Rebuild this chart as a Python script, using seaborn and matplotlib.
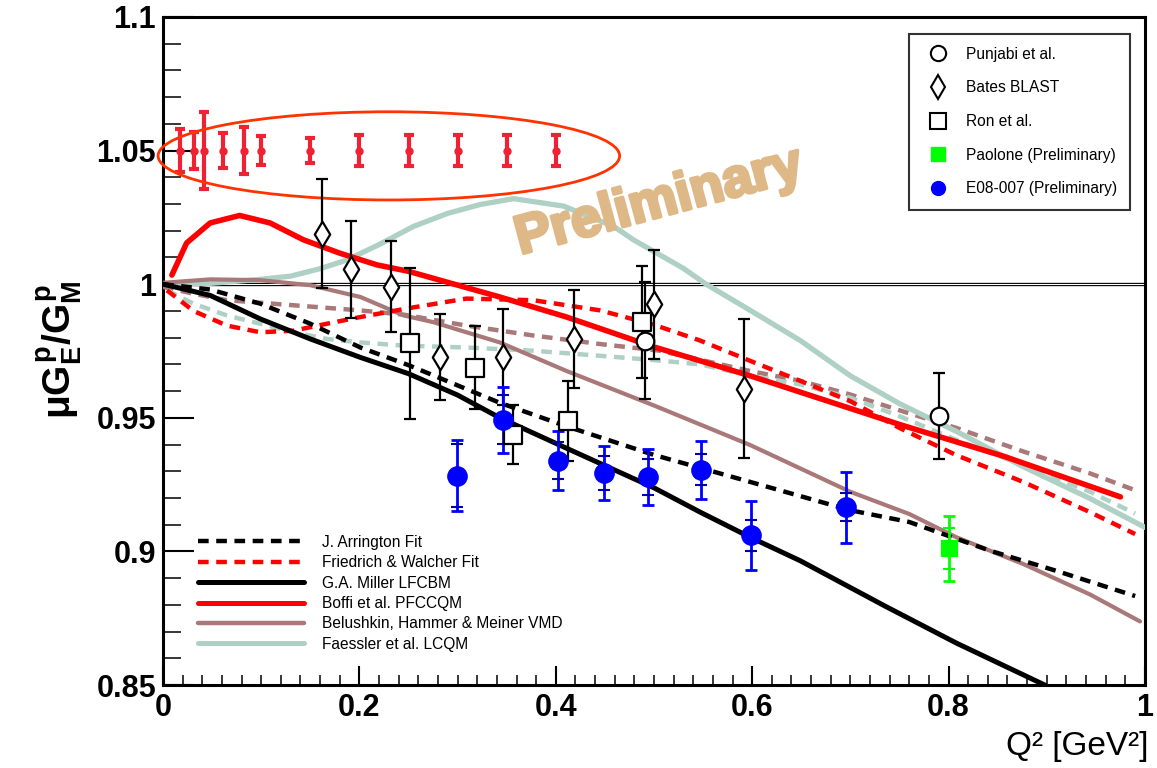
import numpy as np
import pandas as pd
import matplotlib
matplotlib.use("Agg")
import matplotlib.pyplot as plt
import matplotlib.patheffects as pe
import seaborn as sns
from matplotlib.lines import Line2D
from matplotlib.patches import Ellipse
from matplotlib.ticker import MultipleLocator, FixedLocator, FixedFormatter

# ---------------- data ----------------
xticks = [0, 0.2, 0.4, 0.6, 0.8, 1.0]
xtick_labels = ["0", "0.2", "0.4", "0.6", "0.8", "1"]
yticks = [0.85, 0.9, 0.95, 1.0, 1.05, 1.1]
ytick_labels = ["0.85", "0.9", "0.95", "1", "1.05", "1.1"]

# theory curves
arrington_x = [0, 0.048, 0.099, 0.150, 0.201, 0.250, 0.343, 0.411, 0.500, 0.598, 0.700, 0.760, 0.842, 0.910, 0.99]
arrington_y = [1.0, 0.998, 0.9927, 0.9852, 0.9763, 0.9697, 0.9556, 0.9468, 0.9361, 0.926, 0.9154, 0.9110, 0.9003, 0.8927, 0.8833]

friedrich_x = [0.004, 0.031, 0.065, 0.099, 0.133, 0.167, 0.201, 0.250, 0.309, 0.377, 0.445, 0.500, 0.547, 0.598, 0.649, 0.700, 0.750, 0.808, 0.876, 0.944, 0.99]
friedrich_y = [0.9977, 0.990, 0.9845, 0.982, 0.9826, 0.9852, 0.9877, 0.991, 0.9946, 0.994, 0.9902, 0.9848, 0.9789, 0.9713, 0.9638, 0.9562, 0.9462, 0.936, 0.926, 0.9147, 0.9065]

miller_x = [0, 0.048, 0.099, 0.150, 0.201, 0.250, 0.300, 0.343, 0.411, 0.500, 0.547, 0.598, 0.649, 0.735, 0.808, 0.898]
miller_y = [1.0, 0.9958, 0.987, 0.9795, 0.9726, 0.9665, 0.9585, 0.950, 0.9386, 0.9238, 0.9147, 0.9053, 0.8965, 0.8796, 0.8657, 0.850]

boffi_x = [0.009, 0.024, 0.048, 0.078, 0.109, 0.143, 0.180, 0.218, 0.250, 0.343, 0.411, 0.500, 0.598, 0.750, 0.857, 0.975]
boffi_y = [1.0034, 1.0154, 1.0229, 1.0257, 1.0229, 1.0166, 1.0116, 1.0072, 1.0048, 0.9952, 0.9877, 0.9765, 0.9657, 0.9475, 0.9355, 0.9204]

belushkin_x = [0, 0.048, 0.099, 0.150, 0.201, 0.245, 0.275, 0.343, 0.411, 0.500, 0.598, 0.700, 0.760, 0.808, 0.876, 0.944, 0.995]
belushkin_y = [1.0005, 1.0018, 1.0015, 0.9996, 0.9952, 0.9883, 0.9858, 0.9782, 0.9675, 0.9546, 0.9398, 0.9223, 0.9140, 0.9053, 0.8953, 0.8839, 0.8738]

faessler_x = [0, 0.048, 0.099, 0.130, 0.160, 0.187, 0.220, 0.255, 0.290, 0.323, 0.357, 0.408, 0.459, 0.479, 0.530, 0.553, 0.598, 0.649, 0.700, 0.750, 0.808, 0.876, 0.944, 1.0]
faessler_y = [1.0, 1.0003, 1.0018, 1.003, 1.0058, 1.009, 1.0148, 1.0216, 1.0265, 1.0298, 1.032, 1.0292, 1.0216, 1.0166, 1.0059, 1.0, 0.9902, 0.9789, 0.9657, 0.9553, 0.9449, 0.9317, 0.9198, 0.909]

belushkin_dash_x = [0, 0.03, 0.065, 0.133, 0.2, 0.245, 0.309, 0.377, 0.445, 0.506, 0.598, 0.649, 0.700, 0.750, 0.808, 0.876, 0.944, 0.99]
belushkin_dash_y = [0.999, 0.9965, 0.994, 0.9921, 0.9902, 0.9886, 0.9845, 0.9808, 0.9776, 0.9751, 0.9675, 0.9638, 0.9587, 0.9528, 0.9462, 0.9374, 0.9292, 0.9229]

faessler_dash_x = [0.004, 0.031, 0.065, 0.099, 0.133, 0.167, 0.201, 0.245, 0.309, 0.377, 0.445, 0.500, 0.547, 0.598, 0.649, 0.700, 0.750, 0.808, 0.876, 0.944, 0.99]
faessler_dash_y = [0.9977, 0.9927, 0.9883, 0.9852, 0.982, 0.9795, 0.9782, 0.977, 0.9763, 0.9751, 0.9732, 0.9716, 0.970, 0.9657, 0.9625, 0.9575, 0.9506, 0.9417, 0.9323, 0.9223, 0.9142]

# data sets
punjabi_x = [0.491, 0.790]
punjabi_y = [0.9789, 0.9506]
punjabi_err = [0.022, 0.016]

bates_x = [0.162, 0.191, 0.232, 0.282, 0.346, 0.419, 0.500, 0.592]
bates_y = [1.0189, 1.0055, 0.999, 0.9728, 0.9728, 0.9795, 0.9925, 0.9608]
bates_err = [0.0205, 0.018, 0.017, 0.016, 0.018, 0.0185, 0.0204, 0.026]

ron_x = [0.2515, 0.3177, 0.3567, 0.4128, 0.4874]
ron_y = [0.9779, 0.9688, 0.9437, 0.9489, 0.9858]
ron_err = [0.0283, 0.0154, 0.011, 0.015, 0.021]

e08_x = [0.299, 0.346, 0.402, 0.449, 0.494, 0.5475, 0.599, 0.6955]
e08_y = [0.9283, 0.9493, 0.934, 0.9294, 0.9279, 0.9305, 0.906, 0.9166]
e08_tot = [0.0133, 0.0124, 0.0111, 0.0101, 0.0106, 0.011, 0.013, 0.0133]
e08_stat = [0.0118, 0.0092, 0.0068, 0.0064, 0.0068, 0.0058, 0.0058, 0.0053]

paolone_x = [0.800]
paolone_y = [0.9011]
paolone_tot = [0.0122]
paolone_stat = [0.0075]

proj_x = [0.017, 0.032, 0.042, 0.061, 0.082, 0.1, 0.15, 0.2, 0.25, 0.3, 0.35, 0.4]
proj_y = [1.05] * 12
proj_err = [0.0082, 0.0068, 0.0143, 0.0066, 0.0087, 0.0055, 0.0048, 0.0057, 0.0057, 0.0057, 0.0057, 0.0057]

# ---------------- styling ----------------
sns.set_theme(style="ticks")
plt.rcParams['font.family'] = ['Liberation Sans', 'DejaVu Sans']
plt.rcParams['text.color'] = 'black'
plt.rcParams['mathtext.fontset'] = 'custom'
plt.rcParams['mathtext.rm'] = 'Liberation Sans:bold'
plt.rcParams['mathtext.it'] = 'Liberation Sans:bold'
plt.rcParams['mathtext.bf'] = 'Liberation Sans:bold'

RED = "#ff0000"
BROWN = "#a97878"
TEAL = "#afd0c5"
DASH = (0, (2.4, 1.7))

fig = plt.figure(figsize=(11.57, 7.68), dpi=100)
ax = fig.add_axes([0.1409, 0.108, 0.8487, 0.870])
ax.set_facecolor("white")

# reference line at 1
ax.axhline(1.0, color="black", lw=2.4, zorder=2)
ax.axhline(1.0, color="white", lw=0.8, zorder=2)

curves = [
    (belushkin_dash_x, belushkin_dash_y, BROWN, DASH, 3.2),
    (faessler_dash_x, faessler_dash_y, TEAL, DASH, 3.2),
    (faessler_x, faessler_y, TEAL, "-", 3.8),
    (belushkin_x, belushkin_y, BROWN, "-", 3.0),
    (friedrich_x, friedrich_y, RED, DASH, 3.2),
    (arrington_x, arrington_y, "black", DASH, 3.2),
    (miller_x, miller_y, "black", "-", 3.6),
    (boffi_x, boffi_y, RED, "-", 4.0),
]
for cx, cy, col, ls, lw in curves:
    sns.lineplot(x=cx, y=cy, ax=ax, color=col, lw=lw, sort=False,
                 estimator=None, legend=False, zorder=3)
    ax.lines[-1].set_linestyle(ls)

# projected errors and ellipse
ax.errorbar(proj_x, proj_y, yerr=proj_err, fmt="o", color="#ee2233", ms=5,
            lw=3, capsize=3.5, capthick=3, zorder=5)
ax.add_patch(Ellipse((0.230, 1.048), 0.47, 0.033, fill=False,
                     edgecolor="#ff3300", lw=2, clip_on=False, zorder=5))

# data sets
ax.errorbar(bates_x, bates_y, yerr=bates_err, fmt="none", ecolor="black",
            lw=1.6, capsize=4, capthick=1.6, zorder=6)
sns.scatterplot(x=bates_x, y=bates_y, ax=ax, marker="d", s=170,
                facecolor="white", edgecolor="black", linewidth=1.6, zorder=7)
ax.errorbar(ron_x, ron_y, yerr=ron_err, fmt="none", ecolor="black",
            lw=1.6, capsize=4, capthick=1.6, zorder=6)
sns.scatterplot(x=ron_x, y=ron_y, ax=ax, marker="s", s=150,
                facecolor="white", edgecolor="black", linewidth=1.6, zorder=7)
ax.errorbar(punjabi_x, punjabi_y, yerr=punjabi_err, fmt="none", ecolor="black",
            lw=1.6, capsize=4, capthick=1.6, zorder=6)
sns.scatterplot(x=punjabi_x, y=punjabi_y, ax=ax, marker="o", s=160,
                facecolor="white", edgecolor="black", linewidth=1.6, zorder=7)

ax.errorbar(e08_x, e08_y, yerr=e08_tot, fmt="none", ecolor="#0000ff",
            lw=2, capsize=4, capthick=2, zorder=6)
ax.errorbar(e08_x, e08_y, yerr=e08_stat, fmt="none", ecolor="#0000aa",
            lw=0, capsize=4, capthick=1.5, zorder=6)
sns.scatterplot(x=e08_x, y=e08_y, ax=ax, marker="o", s=190,
                color="#0000ff", edgecolor="#0000ff", zorder=7)

ax.errorbar(paolone_x, paolone_y, yerr=paolone_tot, fmt="none", ecolor="#00ff00",
            lw=2, capsize=4, capthick=2, zorder=6)
ax.errorbar(paolone_x, paolone_y, yerr=paolone_stat, fmt="none", ecolor="#00ff00",
            lw=0, capsize=4, capthick=1.5, zorder=6)
sns.scatterplot(x=paolone_x, y=paolone_y, ax=ax, marker="s", s=120,
                color="#00ff00", edgecolor="#00ff00", zorder=7)

# Preliminary watermark
ax.text(0.505, 1.0305, "Preliminary", fontsize=39, fontweight="bold",
        color="#deb887", rotation=15, ha="center", va="center", zorder=4,
        path_effects=[pe.withStroke(linewidth=2.5, foreground="#deb887")])

# axes
ax.set_xlim(0, 1)
ax.set_ylim(0.85, 1.1)
ax.xaxis.set_major_locator(FixedLocator(xticks))
ax.xaxis.set_major_formatter(FixedFormatter(xtick_labels))
ax.yaxis.set_major_locator(FixedLocator(yticks))
ax.yaxis.set_major_formatter(FixedFormatter(ytick_labels))
ax.xaxis.set_minor_locator(MultipleLocator(0.02))
ax.yaxis.set_minor_locator(MultipleLocator(0.01))
ax.tick_params(axis="x", which="major", direction="in", length=14, width=1.5,
               labelsize=22, pad=6, colors="black")
ax.tick_params(axis="x", which="minor", direction="in", length=7, width=1.3)
ax.tick_params(axis="y", which="major", direction="in", length=22, width=1.5,
               labelsize=22, pad=5, colors="black")
ax.tick_params(axis="y", which="minor", direction="in", length=13, width=1.3)
for lab in ax.get_xticklabels() + ax.get_yticklabels():
    lab.set_fontweight("bold")
for sp in ax.spines.values():
    sp.set_linewidth(2.2)
    sp.set_color("black")
    sp.set_visible(True)

ax.set_xlabel("")
ax.set_ylabel("")
fig.text(0.052, 0.545, r"$\mu G_E^p/G_M^p$", rotation=90, fontsize=28,
         ha="center", va="center", color="black")
fig.text(0.993, 0.008, "Q² [GeV²]", fontsize=24, ha="right", va="bottom",
         color="black")

# legends
h_top = [
    Line2D([], [], marker="o", ls="none", mfc="none", mec="black", mew=1.5, ms=11),
    Line2D([], [], marker="d", ls="none", mfc="none", mec="black", mew=1.5, ms=12),
    Line2D([], [], marker="s", ls="none", mfc="none", mec="black", mew=1.5, ms=11),
    Line2D([], [], marker="s", ls="none", mfc="#00ff00", mec="#00ff00", ms=10),
    Line2D([], [], marker="o", ls="none", mfc="#0000ff", mec="#0000ff", ms=10),
]
l_top = ["Punjabi et al.", "Bates BLAST", "Ron et al.", "Paolone (Preliminary)",
         "E08-007 (Preliminary)"]
leg1 = ax.legend(h_top, l_top, loc="upper right", bbox_to_anchor=(0.985, 0.975),
                 fontsize=11.2, labelspacing=1.2, handletextpad=0.8,
                 borderpad=0.85, frameon=True, fancybox=False, borderaxespad=0,
                 labelcolor="black")
leg1.get_frame().set_edgecolor("black")
leg1.get_frame().set_linewidth(1.5)
leg1.set_zorder(10)
ax.add_artist(leg1)

h_bot = [
    Line2D([], [], color="black", ls=DASH, lw=3.2),
    Line2D([], [], color=RED, ls=DASH, lw=3.2),
    Line2D([], [], color="black", lw=3.6),
    Line2D([], [], color=RED, lw=3.6),
    Line2D([], [], color=BROWN, lw=3.2),
    Line2D([], [], color=TEAL, lw=3.6),
]
l_bot = ["J. Arrington Fit", "Friedrich & Walcher Fit", "G.A. Miller LFCBM",
         "Boffi et al. PFCCQM", "Belushkin, Hammer & Meiner VMD", "Faessler et al. LCQM"]
leg2 = ax.legend(h_bot, l_bot, loc="upper left", bbox_to_anchor=(0.036, 0.225),
                 fontsize=11.2, labelspacing=0.35, handlelength=6.8,
                 handletextpad=1.15, borderpad=0, frameon=False, borderaxespad=0,
                 labelcolor="black")

fig.savefig("out.png", dpi=100, facecolor="white")
